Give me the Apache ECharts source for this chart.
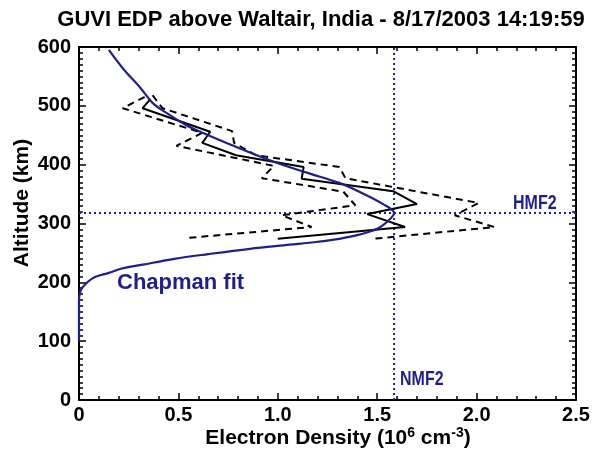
<!DOCTYPE html>
<html><head><meta charset="utf-8">
<script src="https://cdn.jsdelivr.net/npm/echarts@6/dist/echarts.min.js"></script>
<style>html,body{margin:0;padding:0;background:#fff}#c{width:597px;height:450px}</style>
</head><body><div id="c"></div>
<script>
// ---- data ----
const titleText = 'GUVI EDP above Waltair, India - 8/17/2003 14:19:59';
const xMin = 0, xMax = 2.5, xStep = 0.5;
const yMin = 0, yMax = 600, yStep = 100;

// GUVI EDP (solid)
const edpAlt = [512, 496, 456, 437, 416, 396, 376, 355, 333, 316, 294, 274];
const edpNe  = [0.36, 0.32, 0.66, 0.62, 0.79, 1.13, 1.12, 1.58, 1.70, 1.45, 1.64, 1.00];

// lower bound (dashed)
const lowAlt = [515, 496, 454, 432, 398, 377, 354, 331, 314, 294, 275];
const lowNe  = [0.33, 0.22, 0.62, 0.49, 0.98, 0.92, 1.33, 1.39, 1.02, 1.17, 0.53];

// upper bound (dashed)
const highAlt = [518, 496, 457, 437, 416, 396, 377, 355, 335, 314, 294, 274];
const highNe  = [0.37, 0.42, 0.77, 0.78, 0.89, 1.31, 1.34, 1.69, 2.01, 1.89, 2.09, 1.48];

// Chapman fit
const chapAlt = [595, 564, 530, 505, 488, 467, 456, 433, 405, 386, 369, 354, 333, 318,
                 303, 291, 281, 274, 269, 264, 257, 248, 240, 230, 223, 216, 209, 201, 190, 182, 170, 140, 100];
const chapNe  = [0.15, 0.22, 0.31, 0.37, 0.44, 0.54, 0.61, 0.77, 0.98, 1.15, 1.31, 1.41, 1.53, 1.585,
                 1.55, 1.50, 1.41, 1.31, 1.20, 1.06, 0.86, 0.65, 0.48, 0.32, 0.21, 0.15, 0.08, 0.045, 0.015, 0.005, 0.0, 0.0, 0.0];

const hmF2 = 318;     // km
const nmF2 = 1.585;   // 1e6 cm^-3

// ---- styling ----
const FONT = 'Liberation Sans, Arial, Helvetica, sans-serif';
const NAVY = '#1f1f8c';
const pairs = (xs, ys) => xs.map((v, i) => [v, ys[i]]);

const chart = echarts.init(document.getElementById('c'), null, {renderer: 'canvas'});

const baseX = {
  type: 'value', min: xMin, max: xMax, interval: xStep,
  axisLine: {show: true, onZero: false, lineStyle: {color: '#000', width: 2}},
  axisTick: {show: true, inside: true, length: 7, lineStyle: {color: '#000', width: 1.5}},
  minorTick: {show: true, splitNumber: 5, length: 4, lineStyle: {color: '#000', width: 1.5}},
  splitLine: {show: false}, minorSplitLine: {show: false}
};
const baseY = {
  type: 'value', min: yMin, max: yMax, interval: yStep,
  axisLine: {show: true, onZero: false, lineStyle: {color: '#000', width: 2}},
  axisTick: {show: true, inside: true, length: 7, lineStyle: {color: '#000', width: 1.5}},
  minorTick: {show: true, splitNumber: 10, length: 4, lineStyle: {color: '#000', width: 1.5}},
  splitLine: {show: false}, minorSplitLine: {show: false}
};

const option = {
  backgroundColor: '#fff',
  animation: false,
  grid: {left: 79, right: 21, top: 47, bottom: 50, containLabel: false},
  xAxis: [
    Object.assign({}, baseX, {position: 'bottom',
      axisLabel: {show: true, margin: 5, color: '#000', fontSize: 20, fontWeight: 'bold', fontFamily: FONT,
        formatter: v => (v === 0 ? '0' : v.toFixed(1))}}),
    Object.assign({}, baseX, {position: 'top', axisLabel: {show: false}})
  ],
  yAxis: [
    Object.assign({}, baseY, {position: 'left',
      axisLabel: {show: true, margin: 8, color: '#000', fontSize: 20, fontWeight: 'bold', fontFamily: FONT}}),
    Object.assign({}, baseY, {position: 'right', axisLabel: {show: false}})
  ],
  series: [
    {name: 'HMF2', type: 'line', data: [[xMin, hmF2], [xMax, hmF2]], symbol: 'none',
     lineStyle: {color: NAVY, width: 2, type: [2, 3]}, z: 1},
    {name: 'NMF2', type: 'line', data: [[nmF2, yMin], [nmF2, yMax]], symbol: 'none',
     lineStyle: {color: NAVY, width: 2, type: [2, 3]}, z: 1},
    {name: 'low', type: 'line', data: pairs(lowNe, lowAlt), symbol: 'none',
     lineStyle: {color: '#000', width: 2, type: [7, 5]}, z: 2},
    {name: 'high', type: 'line', data: pairs(highNe, highAlt), symbol: 'none',
     lineStyle: {color: '#000', width: 2, type: [7, 5]}, z: 2},
    {name: 'EDP', type: 'line', data: pairs(edpNe, edpAlt), symbol: 'none',
     lineStyle: {color: '#000', width: 2}, z: 3},
    {name: 'Chapman', type: 'line', data: pairs(chapNe, chapAlt), symbol: 'none', smooth: 0.35,
     lineStyle: {color: NAVY, width: 2.2}, z: 4}
  ],
  graphic: [
    {type: 'text', x: 321, y: 20, style: {text: titleText, font: 'bold 22px ' + FONT, fill: '#000',
      align: 'center', verticalAlign: 'middle'}},
    {type: 'text', x: 338, y: 438, style: {
      text: 'Electron Density (10{sup|6} cm{sup|-3})', font: 'bold 21px ' + FONT, fill: '#000',
      align: 'center', verticalAlign: 'middle',
      rich: {sup: {fontSize: 14, fontWeight: 'bold', fontFamily: FONT, fill: '#000', padding: [0, 0, 9, 0]}}}},
    {type: 'text', x: 22, y: 203, rotation: Math.PI / 2, style: {text: 'Altitude (km)', font: 'bold 21px ' + FONT,
      fill: '#000', align: 'center', verticalAlign: 'middle'}},
    {type: 'text', x: 117, y: 283, style: {text: 'Chapman fit', font: 'bold 22px ' + FONT, fill: NAVY,
      align: 'left', verticalAlign: 'middle'}},
    {type: 'text', x: 513, y: 203, scaleX: 0.8, style: {text: 'HMF2', font: 'bold 20px ' + FONT, fill: NAVY,
      align: 'left', verticalAlign: 'middle'}},
    {type: 'text', x: 400, y: 379, scaleX: 0.8, style: {text: 'NMF2', font: 'bold 20px ' + FONT, fill: NAVY,
      align: 'left', verticalAlign: 'middle'}}
  ]
};
chart.setOption(option);
</script>
</body></html>
